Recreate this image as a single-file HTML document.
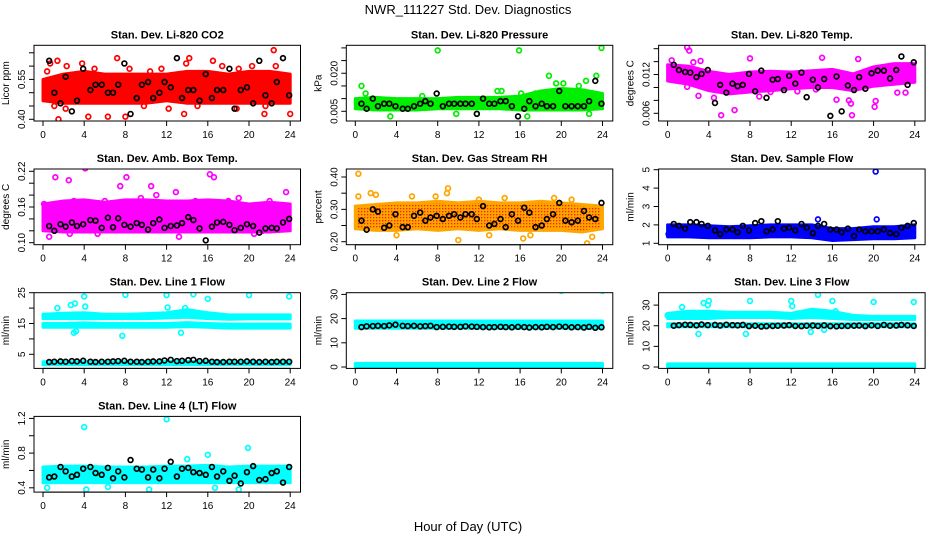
<!DOCTYPE html>
<html><head><meta charset="utf-8"><style>
html,body{margin:0;padding:0;background:#fff}
svg{display:block;font-family:"Liberation Sans",sans-serif}
</style></head><body>
<svg id="c" width="936" height="540" viewBox="0 0 936 540">
<defs><pattern id="rhpat" width="3" height="3" patternUnits="userSpaceOnUse"><rect width="3" height="3" fill="#ffa500"/><rect x="1" y="1" width="1.3" height="1.3" fill="#ff2000"/></pattern></defs>
<text x="468" y="14" text-anchor="middle" font-size="13">NWR_111227  Std. Dev. Diagnostics</text>
<text x="468" y="531" text-anchor="middle" font-size="13">Hour of Day (UTC)</text>
</svg>
<script>
const xTicks = [0,4,8,12,16,20,24];
const bandHours = [0,2,4,6,8,10,12,14,16,18,20,22,24];
const blackHours = [0.6,1.1,1.7,2.2,2.8,3.3,3.9,4.6,5.1,5.7,6.3,6.8,7.3,7.9,8.5,9.1,9.6,10.2,10.7,11.3,11.8,12.4,13.0,13.5,14.1,14.6,15.2,15.8,16.4,16.9,17.5,18.1,18.6,19.2,19.8,20.4,21.0,21.6,22.2,22.7,23.3,23.9];

const co2BandLo = [0.47,0.46,0.46,0.46,0.46,0.46,0.47,0.46,0.46,0.46,0.46,0.46,0.46];
const co2BandHi = [0.55,0.57,0.58,0.57,0.57,0.57,0.57,0.58,0.58,0.57,0.58,0.58,0.57];
const co2OutHrs = [0.7,1.5,1.4,2.3,3.8,4.4,7.2,8.0,6.3,8.4,0.4,1.1,2.2,11.5,12.2,13.9,14.2,13.7,15.0,16.5,17.4,18.8,21.5,21.6,22.4,22.6,24.0,20.3,5.0,9.8,10.4,19.0];
const co2OutVals = [0.61,0.40,0.62,0.60,0.61,0.41,0.63,0.41,0.41,0.59,0.58,0.45,0.44,0.59,0.44,0.61,0.63,0.42,0.45,0.62,0.60,0.44,0.42,0.45,0.66,0.60,0.42,0.60,0.59,0.45,0.58,0.59];
const co2Black = [0.62,0.50,0.46,0.56,0.43,0.47,0.59,0.51,0.53,0.53,0.50,0.50,0.53,0.61,0.42,0.48,0.53,0.54,0.48,0.50,0.54,0.52,0.63,0.48,0.51,0.51,0.47,0.57,0.48,0.51,0.51,0.59,0.44,0.51,0.52,0.46,0.62,0.49,0.46,0.54,0.63,0.49];

const presBandLo = [0.006,0.0055,0.0055,0.0055,0.006,0.006,0.006,0.006,0.0055,0.0055,0.0055,0.0055,0.006];
const presBandHi = [0.010,0.0105,0.010,0.010,0.010,0.0105,0.0105,0.0105,0.011,0.013,0.014,0.0135,0.012];
const presOutHrs = [8,15.9,23.9,0.6,18.8,23.4,22.4,3.4,11.8,16.7,22.7,14.2,13.8,16.1,19.5,20.2,21.7,1.0,6.5,9.8,17.5];
const presOutVals = [0.029,0.029,0.030,0.015,0.019,0.019,0.017,0.003,0.004,0.003,0.004,0.013,0.013,0.012,0.016,0.016,0.015,0.012,0.011,0.004,0.012];
const presBlack = [0.008,0.006,0.010,0.007,0.008,0.008,0.007,0.006,0.006,0.007,0.008,0.009,0.008,0.012,0.007,0.008,0.008,0.008,0.008,0.008,0.004,0.010,0.008,0.008,0.009,0.009,0.007,0.003,0.006,0.009,0.007,0.008,0.007,0.007,0.013,0.007,0.007,0.007,0.007,0.009,0.017,0.008];

const tempBandLo = [0.0110,0.0105,0.0095,0.0090,0.0093,0.0095,0.0098,0.0100,0.0100,0.0095,0.0102,0.0105,0.0108];
const tempBandHi = [0.0135,0.0133,0.0125,0.0120,0.0124,0.0125,0.0124,0.0126,0.0128,0.0121,0.0132,0.0137,0.0137];
const tempOutHrs = [0.4,1.9,2.1,3.2,2.5,5.2,6.5,4.5,3.0,8.0,8.9,15.0,16.4,17.6,17.9,17.8,20.2,20.1,22.3,23.1,1.9,10.0,12.6,14.4,18.5];
const tempOutVals = [0.0142,0.0162,0.0157,0.0141,0.0139,0.0057,0.0065,0.0084,0.0087,0.0145,0.0086,0.0146,0.0081,0.0080,0.0057,0.0075,0.0079,0.0070,0.0092,0.0092,0.0101,0.0093,0.0094,0.0097,0.0144];
const tempBlack = [0.0135,0.0127,0.0124,0.0123,0.0116,0.0121,0.0127,0.0076,0.0104,0.0092,0.0106,0.0102,0.0104,0.0121,0.0094,0.0126,0.0084,0.0112,0.0113,0.0096,0.0118,0.0106,0.0123,0.0085,0.0112,0.0100,0.0113,0.0056,0.0117,0.0063,0.0103,0.0096,0.0116,0.0098,0.0122,0.0126,0.0126,0.0114,0.0127,0.0148,0.0104,0.0139];

const boxBandLo = [0.120,0.118,0.118,0.118,0.118,0.118,0.118,0.118,0.118,0.118,0.118,0.118,0.120];
const boxBandHi = [0.165,0.170,0.172,0.168,0.172,0.172,0.170,0.170,0.172,0.170,0.165,0.168,0.165];
const boxOutHrs = [0.1,0.6,1.2,2.5,2.6,4.1,7.5,8.1,10.5,12.9,16.2,16.6,13.2,19.0,23.6,3.0,6.0,9.5,11.0,14.8,18.0,22.0,21.3,20.5,5.3,1.5];
const boxOutVals = [0.165,0.11,0.21,0.205,0.115,0.225,0.195,0.21,0.195,0.185,0.215,0.21,0.11,0.175,0.185,0.17,0.17,0.175,0.18,0.17,0.17,0.17,0.12,0.115,0.115,0.15];
const boxBlack = [0.128,0.120,0.131,0.127,0.134,0.128,0.131,0.138,0.137,0.125,0.142,0.126,0.141,0.130,0.127,0.133,0.130,0.122,0.133,0.139,0.125,0.128,0.129,0.133,0.143,0.138,0.124,0.104,0.127,0.134,0.135,0.130,0.121,0.125,0.131,0.128,0.117,0.124,0.125,0.124,0.134,0.140];

const rhBandLo = [0.24,0.235,0.235,0.24,0.235,0.24,0.235,0.24,0.235,0.235,0.235,0.23,0.24];
const rhBandHi = [0.31,0.315,0.32,0.32,0.325,0.32,0.325,0.32,0.32,0.325,0.32,0.315,0.31];
const rhOutHrs = [0.3,0.3,2.0,9.0,7.8,4.0,10.0,16.3,22.5,23.0,14.5,5.5,19.3,12.0,8.9,1.5,17.0,13.0,21.0];
const rhOutVals = [0.41,0.34,0.345,0.365,0.34,0.22,0.205,0.21,0.195,0.215,0.335,0.34,0.335,0.33,0.35,0.35,0.22,0.22,0.33];
const rhBlack = [0.265,0.237,0.300,0.293,0.243,0.250,0.285,0.245,0.245,0.280,0.290,0.265,0.275,0.280,0.270,0.280,0.285,0.275,0.285,0.285,0.270,0.310,0.250,0.255,0.270,0.245,0.285,0.265,0.305,0.290,0.245,0.250,0.270,0.285,0.320,0.265,0.260,0.265,0.295,0.275,0.270,0.320];

const sfBandLo = [1.35,1.35,1.3,1.3,1.3,1.35,1.35,1.3,1.15,1.2,1.25,1.25,1.3];
const sfBandHi = [2.0,2.0,1.95,1.9,1.95,2.0,2.0,2.0,1.8,1.8,1.9,1.9,2.0];
const sfOutHrs = [20.2,20.3,14.6,0.1];
const sfOutVals = [4.9,2.3,2.3,1.5];
const sfBlack = [2.05,1.95,1.8,2.15,2.15,2.05,1.95,1.7,1.5,1.75,1.75,1.6,1.95,1.7,2.1,2.2,1.65,1.75,2.2,1.8,1.85,1.7,2.05,1.85,1.55,1.95,2.05,1.75,1.75,1.6,1.8,1.4,1.75,1.65,1.65,1.65,1.75,1.55,1.5,1.85,1.95,2.1];

const l1BandALo = [16.6,16.6,16.6,16.6,16.6,16.6,16.8,17.0,16.6,16.4,16.5,16.5,16.5];
const l1BandAHi = [18.0,18.3,18.5,18.0,18.0,18.2,18.5,19.5,18.5,17.8,17.8,17.8,17.8];
const l1BandBLo = [13.8,13.8,13.8,13.8,13.8,13.8,13.8,14.0,13.8,13.5,13.5,13.5,13.5];
const l1BandBHi = [15.0,15.0,15.2,15.0,15.0,15.0,15.0,15.3,15.0,14.8,14.8,14.8,14.8];
const l1BandCLo = [1.6,1.6,1.6,1.6,1.6,1.6,1.6,1.6,1.6,1.6,1.6,1.6,1.6];
const l1BandCHi = [2.6,2.6,2.6,2.6,2.6,2.6,2.7,2.7,2.6,2.6,2.6,2.6,2.6];
const l1OutHrs = [3.0,3.2,7.7,13.4,4,8,12,14.6,16.0,20,23.9,2.7,3.1,1.4,4.1,13.8,12.1];
const l1OutVals = [12,12.5,11,12,23.8,24.3,24.2,24.5,23,24.2,23.8,21,21.5,20,20.5,20,20.2];
const l1Black = [2.5,2.6,2.7,2.6,2.8,2.7,2.9,2.6,2.5,2.6,2.6,2.7,2.8,2.9,2.6,2.6,2.5,2.6,2.7,2.7,3.0,3.2,2.8,2.9,3.1,3.2,2.8,2.9,2.6,2.5,2.5,2.6,2.6,2.6,2.7,2.6,2.5,2.6,2.5,2.6,2.6,2.6];

const l2BandALo = [16.0,16.0,16.0,16.0,16.0,16.0,16.0,16.0,16.0,16.0,16.0,16.0,16.0];
const l2BandAHi = [19.0,19.0,19.0,19.0,19.0,19.0,19.0,19.0,19.0,19.0,19.0,19.0,19.0];
const l2BandBLo = [0,0,0,0,0,0,0,0,0,0,0,0,0];
const l2BandBHi = [1.5,1.5,1.5,1.5,1.5,1.5,1.5,1.5,1.5,1.5,1.5,1.5,1.5];
const l2OutHrs = [4,8,12,16,20,24];
const l2OutVals = [32,32,32,32,31.5,31.5];
const l2Black = [16.5,16.8,16.9,17.0,16.9,17.2,17.5,17.0,16.9,17.0,16.8,16.9,17.0,16.5,16.6,16.7,16.6,16.6,16.8,16.7,16.6,16.5,16.4,16.5,16.6,16.5,16.4,16.6,16.5,16.3,16.5,16.4,16.6,16.5,16.7,16.6,16.4,16.5,16.3,16.6,16.2,16.4];

const l3BandALo = [23.5,23.5,23.5,24,24,24,23.5,24,23.5,23,23,23,23];
const l3BandAHi = [26,27,27,26.5,26.5,26.5,26,28,27,25,24.5,24.5,24.5];
const l3BandBLo = [19.5,19.5,19.5,19.5,19.5,19.5,19.5,19.5,19.5,19.5,19.5,19.5,19.5];
const l3BandBHi = [21,21,21,21,21,21,21,21,21,21,21,21,21];
const l3BandCLo = [0,0,0,0,0,0,0,0,0,0,0,0,0];
const l3BandCHi = [1.5,1.5,1.5,1.5,1.5,1.5,1.5,1.5,1.5,1.5,1.5,1.5,1.5];
const l3OutHrs = [0.0,1.4,3.0,3.5,4,3.9,8,7.6,12,12.1,14.6,13.9,15.2,16,16.3,20,23.9,17.2];
const l3OutVals = [25,29,16,31,32,30,32,16,32,29.5,35,17,18,32,27,31.5,31.5,20];
const l3Black = [20.0,20.3,20.5,20.4,20.2,20.6,20.3,20.4,20.1,20.5,20.3,20.2,20.4,19.8,20.0,19.6,19.8,19.9,20.0,20.1,20.3,19.9,19.8,20.0,20.1,19.9,20.2,19.8,19.7,19.9,19.9,20.0,20.1,19.8,20.2,19.9,20.4,20.0,20.1,20.4,20.2,19.9];

const l4BandLo = [0.46,0.46,0.46,0.46,0.46,0.46,0.46,0.46,0.46,0.46,0.46,0.46,0.46];
const l4BandHi = [0.64,0.65,0.65,0.64,0.64,0.64,0.65,0.65,0.66,0.64,0.65,0.65,0.65];
const l4OutHrs = [4,12,19.9,16,14,0.4,10.3,16.7,19,4.2,6.3];
const l4OutVals = [1.1,1.19,0.86,0.78,0.73,0.4,0.38,0.4,0.38,0.38,0.41];
const l4Black = [0.52,0.53,0.64,0.59,0.53,0.55,0.62,0.64,0.57,0.55,0.63,0.51,0.59,0.52,0.72,0.62,0.61,0.52,0.61,0.51,0.62,0.70,0.53,0.62,0.63,0.58,0.57,0.55,0.64,0.53,0.59,0.48,0.54,0.45,0.58,0.65,0.49,0.50,0.57,0.59,0.46,0.64];

const svg = document.getElementById('c');
const NS = 'http://www.w3.org/2000/svg';
function mk(tag, attrs, parent){ const e=document.createElementNS(NS,tag); for(const k in attrs) e.setAttribute(k,attrs[k]); (parent||svg).appendChild(e); return e; }

const panels = [
 {key:'co2',title:'Stan. Dev. Li-820 CO2',ylab:'Licor ppm',col:0,row:0,color:'#ff0000',v1:0.40,o1:74,v2:0.65,o2:7.5,ticks:[0.40,0.45,0.50,0.55,0.60,0.65],labels:['0.40','0.55'],bands:[[co2BandLo,co2BandHi]],oh:co2OutHrs,ov:co2OutVals,bk:co2Black},
 {key:'pressure',title:'Stan. Dev. Li-820 Pressure',ylab:'kPa',col:1,row:0,color:'#00ee00',v1:0.005,o1:66,v2:0.030,o2:2.6,ticks:[0.005,0.010,0.015,0.020,0.025,0.030],labels:['0.005','0.020'],bands:[[presBandLo,presBandHi]],oh:presOutHrs,ov:presOutVals,bk:presBlack},
 {key:'temp',title:'Stan. Dev. Li-820 Temp.',ylab:'degrees C',col:2,row:0,color:'#ff00ff',v1:0.006,o1:68,v2:0.016,o2:3.4,ticks:[0.006,0.008,0.010,0.012,0.014,0.016],labels:['0.006','0.012'],bands:[[tempBandLo,tempBandHi]],oh:tempOutHrs,ov:tempOutVals,bk:tempBlack},
 {key:'ambbox',title:'Stan. Dev. Amb. Box Temp.',ylab:'degrees C',col:0,row:1,color:'#ff00ff',v1:0.10,o1:73.7,v2:0.22,o2:2.3,ticks:[0.10,0.12,0.14,0.16,0.18,0.20,0.22],labels:['0.10','0.16','0.22'],bands:[[boxBandLo,boxBandHi]],oh:boxOutHrs,ov:boxOutVals,bk:boxBlack},
 {key:'rh',title:'Stan. Dev. Gas Stream RH',ylab:'percent',col:1,row:1,color:'#ffa500',fill:'url(#rhpat)',v1:0.20,o1:72.7,v2:0.40,o2:8,ticks:[0.20,0.25,0.30,0.35,0.40],labels:['0.20','0.30','0.40'],bands:[[rhBandLo,rhBandHi]],oh:rhOutHrs,ov:rhOutVals,bk:rhBlack},
 {key:'sampleflow',title:'Stan. Dev. Sample Flow',ylab:'ml/min',col:2,row:1,color:'#0000ff',v1:1,o1:74.3,v2:5,o2:0.7,ticks:[1,2,3,4,5],labels:['1','2','3','4','5'],bands:[[sfBandLo,sfBandHi]],oh:sfOutHrs,ov:sfOutVals,bk:sfBlack},
 {key:'line1',title:'Stan. Dev. Line 1 Flow',ylab:'ml/min',col:0,row:2,color:'#00ffff',v1:5,o1:61.6,v2:25,o2:0,ticks:[5,10,15,20,25],labels:['5','15','25'],bands:[[l1BandALo,l1BandAHi],[l1BandBLo,l1BandBHi],[l1BandCLo,l1BandCHi]],oh:l1OutHrs,ov:l1OutVals,bk:l1Black},
 {key:'line2',title:'Stan. Dev. Line 2 Flow',ylab:'ml/min',col:1,row:2,color:'#00ffff',v1:0,o1:74.3,v2:30,o2:1.7,ticks:[0,10,20,30],labels:['0','10','20','30'],bands:[[l2BandALo,l2BandAHi],[l2BandBLo,l2BandBHi]],oh:l2OutHrs,ov:l2OutVals,bk:l2Black},
 {key:'line3',title:'Stan. Dev. Line 3 Flow',ylab:'ml/min',col:2,row:2,color:'#00ffff',v1:0,o1:74.3,v2:30,o2:12.4,ticks:[0,10,20,30],labels:['0','10','20','30'],bands:[[l3BandALo,l3BandAHi],[l3BandBLo,l3BandBHi],[l3BandCLo,l3BandCHi]],oh:l3OutHrs,ov:l3OutVals,bk:l3Black},
 {key:'line4',title:'Stan. Dev. Line 4 (LT) Flow',ylab:'ml/min',col:0,row:3,color:'#00ffff',v1:0.4,o1:71.4,v2:1.2,o2:2,ticks:[0.4,0.6,0.8,1.0,1.2],labels:['0.4','0.8','1.2'],bands:[[l4BandLo,l4BandHi]],oh:l4OutHrs,ov:l4OutVals,bk:l4Black}
];

panels.forEach(p=>{
  const left = 34 + p.col*312.3, right = left+266.5;
  const top = 45.3 + p.row*123.7, bottom = top+75.7;
  const sx = h => left + 9 + h*10.3;
  const sy = v => top + p.o1 + (v-p.v1)/(p.v2-p.v1)*(p.o2-p.o1);
  const g = mk('g',{});
  
  
  const clipId='clip-'+p.key;
  const cp=mk('clipPath',{id:clipId},g); mk('rect',{x:left,y:top,width:right-left,height:bottom-top},cp);
  const plot=mk('g',{'clip-path':'url(#'+clipId+')'},g);
  
  
  p.bands.forEach((b,bi)=>{
    let d='';
    bandHours.forEach((h,i)=>{ d+=(i?'L':'M')+sx(h).toFixed(1)+' '+sy(b[1][i]).toFixed(1); });
    for(let i=bandHours.length-1;i>=0;i--) d+='L'+sx(bandHours[i]).toFixed(1)+' '+sy(b[0][i]).toFixed(1);
    d+='Z';
    const path=mk('path',{d:d,fill:p.fill||p.color,stroke:p.color,'stroke-width':3,'stroke-linejoin':'round'},plot);
    
    
  });
  p.oh.forEach((h,i)=>{
    const c=mk('circle',{cx:sx(h),cy:sy(p.ov[i]),r:2.4,fill:'none',stroke:p.color,'stroke-width':1.7},plot);
    
    
  });
  const n=Math.min(blackHours.length,p.bk.length);
  for(let i=0;i<n;i++){
    const c=mk('circle',{cx:sx(blackHours[i]),cy:sy(p.bk[i]),r:2.4,fill:'none',stroke:'#000','stroke-width':1.7},plot);
    
    
  }
  const box=mk('rect',{x:left,y:top,width:right-left,height:bottom-top,fill:'none',stroke:'#000','stroke-width':1},g);
  
  
  const t=mk('text',{x:(left+right)/2,y:top-7,'text-anchor':'middle','font-size':11,'font-weight':'bold'},g);
  t.textContent=p.title;
  
  
  xTicks.forEach(h=>{
    mk('line',{x1:sx(h),x2:sx(h),y1:bottom,y2:bottom+5,stroke:'#000'},g);
    const tl=mk('text',{x:sx(h),y:bottom+17,'text-anchor':'middle','font-size':10},g);
    tl.textContent=h;
    
    
  });
  mk('line',{x1:sx(0),x2:sx(24),y1:bottom,y2:bottom,stroke:'#000'},g);
  p.ticks.forEach(v=>{ mk('line',{x1:left-5,x2:left,y1:sy(v),y2:sy(v),stroke:'#000'},g); });
  p.ticks.forEach(v=>{
    const lbl = p.labels.find(s=>Math.abs(parseFloat(s)-v)<1e-9);
    if(lbl===undefined) return;
    const yy=sy(v);
    const tl=mk('text',{x:left-9,y:yy,'text-anchor':'middle','font-size':10,transform:'rotate(-90 '+(left-9)+' '+yy+')'},g);
    tl.textContent=lbl;
    
    
  });
  const yc=(top+bottom)/2, xl=left-25;
  const yl=mk('text',{x:xl,y:yc,'text-anchor':'middle','font-size':10,transform:'rotate(-90 '+xl+' '+yc+')'},g);
  yl.textContent=p.ylab;
  
  
});
</script>
</body></html>
